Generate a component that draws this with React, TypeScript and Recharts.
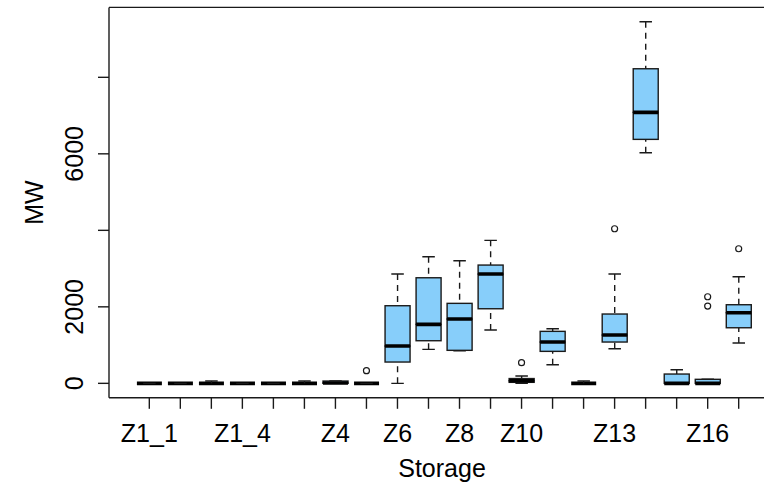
import React from "react";
import { ComposedChart, Bar, Scatter, XAxis, YAxis, ReferenceLine } from "recharts";

const categories = ["Z1_1", "Z1_2", "Z1_3", "Z1_4", "Z2", "Z3", "Z4", "Z5", "Z6", "Z7", "Z8", "Z9", "Z10", "Z11", "Z12", "Z13", "Z14", "Z15", "Z16", "Z17"];
const whiskerLow = [0, 0, 0, 0, 0, 0, 0, 0, 0, 889, 850, 1393, 0, 486, 0, 905, 6028, 0, 0, 1053];
const quartile1 = [0, 0, 0, 0, 0, 0, 0, 0, 557, 1114, 863, 1950, 26, 836, 0, 1080, 6378, 0, 0, 1453];
const medians = [0, 0, 0, 0, 0, 0, 10, 0, 975, 1542, 1681, 2857, 68, 1080, 0, 1263, 7084, 0, 0, 1846];
const quartile3 = [0, 0, 0, 0, 0, 0, 60, 0, 2029, 2760, 2091, 3092, 125, 1359, 0, 1812, 8224, 243, 105, 2055];
const whiskerHigh = [0, 0, 60, 0, 0, 60, 60, 0, 2857, 3309, 3205, 3738, 190, 1427, 60, 2857, 9452, 356, 105, 2787];
const outlierCategories = ["Z5", "Z10", "Z13", "Z16", "Z16", "Z17"];
const outlierValues = [330, 540, 4041, 2264, 2021, 3519];
const yTicks = [0, 2000, 4000, 6000, 8000];
const yTickLabels = ["0", "2000", "", "6000", ""];
const xTickLabels = ["Z1_1", "Z1_4", "Z4", "Z6", "Z8", "Z10", "Z13", "Z16"];
const yDomain = [-378, 9828];

const rows = categories.map((cat, i) => {
  const outs = outlierValues.filter((_, j) => outlierCategories[j] === cat);
  return {
    cat,
    base: whiskerLow[i],
    lw: quartile1[i] - whiskerLow[i],
    lb: medians[i] - quartile1[i],
    ub: quartile3[i] - medians[i],
    uw: whiskerHigh[i] - quartile3[i],
    o1: outs[0],
    o2: outs[1],
  };
});

const FONT = "'Liberation Sans', Arial, sans-serif";
const FS = 25;
const LINE = "#1a1a1a";
const FILL = "#87CEFA";
const SW = 1.4;

const Empty = () => <g />;

const LowerWhisker = (p: any) => {
  const cx = p.x + p.width / 2;
  const top = p.y;
  const bot = p.y + p.height;
  const cap = p.width / 4;
  return (
    <g>
      {p.height > 0.5 && (
        <line x1={cx} x2={cx} y1={bot} y2={top} stroke={LINE} strokeWidth={SW} strokeDasharray="6 5" />
      )}
      <line x1={cx - cap} x2={cx + cap} y1={bot} y2={bot} stroke={LINE} strokeWidth={SW} />
    </g>
  );
};

const UpperWhisker = (p: any) => {
  const cx = p.x + p.width / 2;
  const top = p.y;
  const bot = p.y + p.height;
  const cap = p.width / 4;
  return (
    <g>
      {p.height > 0.5 && (
        <line x1={cx} x2={cx} y1={top} y2={bot} stroke={LINE} strokeWidth={SW} strokeDasharray="6 5" />
      )}
      <line x1={cx - cap} x2={cx + cap} y1={top} y2={top} stroke={LINE} strokeWidth={SW} />
    </g>
  );
};

const LowerBox = (p: any) => (
  <rect x={p.x} y={p.y} width={p.width} height={Math.max(0, p.height)} fill={FILL} stroke={LINE} strokeWidth={SW} />
);

const UpperBox = (p: any) => {
  const bot = p.y + p.height;
  return (
    <g>
      <rect x={p.x} y={p.y} width={p.width} height={Math.max(0, p.height)} fill={FILL} stroke={LINE} strokeWidth={SW} />
      <line x1={p.x} x2={p.x + p.width} y1={bot} y2={bot} stroke="#000" strokeWidth={3.6} />
    </g>
  );
};

const makeOutlier = (key: string) => (p: any) => {
  if (!p.payload || p.payload[key] == null || !isFinite(p.cx) || !isFinite(p.cy)) return <g />;
  return <circle cx={p.cx} cy={p.cy} r={3} fill="none" stroke={LINE} strokeWidth={1.2} />;
};

const XTick = (p: any) => {
  const v = p.payload && p.payload.value;
  if (!xTickLabels.includes(v)) return <g />;
  return (
    <text x={p.x} y={p.y + 33} textAnchor="middle" fontFamily={FONT} fontSize={FS} fill="#000">
      {v}
    </text>
  );
};

const YTick = (p: any) => {
  const idx = yTicks.indexOf(p.payload && p.payload.value);
  const label = idx >= 0 ? yTickLabels[idx] : "";
  if (!label) return <g />;
  const x = p.x - 14.7;
  return (
    <text x={x} y={p.y} transform={`rotate(-90, ${x}, ${p.y})`} textAnchor="middle" fontFamily={FONT} fontSize={FS} fill="#000">
      {label}
    </text>
  );
};

const YLabel = (p: any) => {
  const vb = p.viewBox || { x: 0, y: 7.4, width: 109, height: 390.4 };
  const x = vb.x + 42.7;
  const y = vb.y + vb.height / 2;
  return (
    <text x={x} y={y} transform={`rotate(-90, ${x}, ${y})`} textAnchor="middle" fontFamily={FONT} fontSize={FS} fill="#000">
      MW
    </text>
  );
};

const XLabel = (p: any) => {
  const vb = p.viewBox || { x: 109, y: 397.8, width: 670, height: 91.2 };
  return (
    <text x={vb.x + vb.width / 2 - 2} y={vb.y + 79.5} textAnchor="middle" fontFamily={FONT} fontSize={FS} fill="#000">
      Storage
    </text>
  );
};

export default function App() {
  return (
    <div style={{ position: "absolute", left: 0, top: 0, width: 764, height: 489, overflow: "hidden", background: "#fff" }}>
      <ComposedChart
        width={779}
        height={489}
        data={rows}
        margin={{ top: 7.4, right: 0, bottom: 0, left: 0 }}
        barCategoryGap="10%"
      >
        <XAxis
          dataKey="cat"
          type="category"
          allowDuplicatedCategory={false}
          interval={0}
          padding={{ left: 24.8, right: 24.8 }}
          height={91.2}
          tickSize={11}
          tickMargin={0}
          tick={<XTick />}
          axisLine={{ stroke: LINE, strokeWidth: SW }}
          tickLine={{ stroke: LINE, strokeWidth: SW }}
          label={{ content: XLabel }}
        />
        <YAxis
          type="number"
          domain={yDomain}
          allowDataOverflow
          ticks={yTicks}
          interval={0}
          width={109}
          tickSize={11}
          tickMargin={0}
          tick={<YTick />}
          axisLine={{ stroke: LINE, strokeWidth: SW }}
          tickLine={{ stroke: LINE, strokeWidth: SW }}
          label={{ content: YLabel }}
        />
        <ReferenceLine y={yDomain[1]} stroke={LINE} strokeWidth={SW} ifOverflow="visible" />
        <Bar dataKey="base" stackId="box" shape={<Empty />} isAnimationActive={false} />
        <Bar dataKey="lw" stackId="box" shape={LowerWhisker} isAnimationActive={false} />
        <Bar dataKey="lb" stackId="box" shape={LowerBox} isAnimationActive={false} />
        <Bar dataKey="ub" stackId="box" shape={UpperBox} isAnimationActive={false} />
        <Bar dataKey="uw" stackId="box" shape={UpperWhisker} isAnimationActive={false} />
        <Scatter dataKey="o1" shape={makeOutlier("o1")} isAnimationActive={false} />
        <Scatter dataKey="o2" shape={makeOutlier("o2")} isAnimationActive={false} />
      </ComposedChart>
    </div>
  );
}
